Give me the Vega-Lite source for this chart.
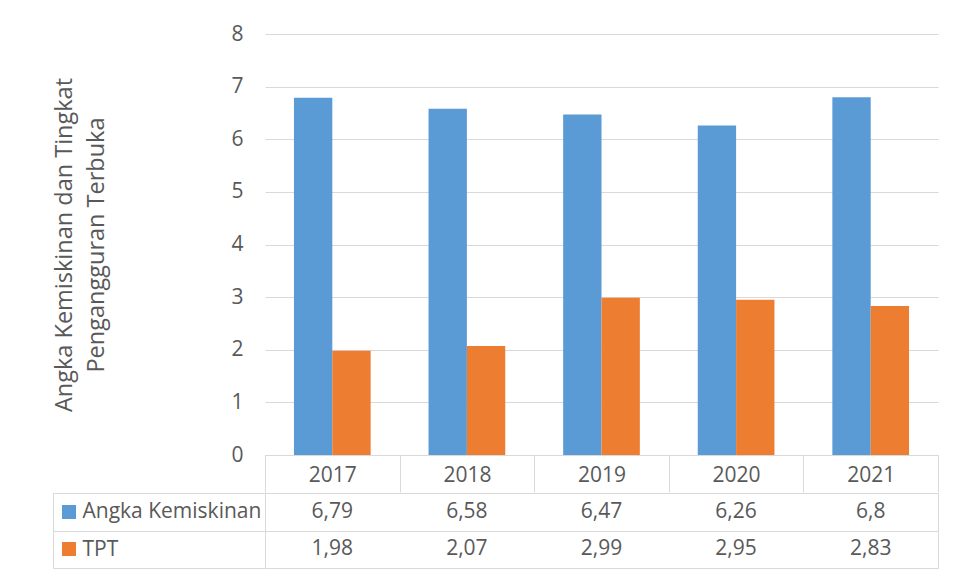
{
  "$schema": "https://vega.github.io/schema/vega-lite/v6.json",
  "padding": {"left": 52, "top": 23, "right": 0, "bottom": 0},
  "background": "white",
  "config": {
    "font": "Open Sans",
    "view": {"stroke": null},
    "concat": {"spacing": 0},
    "locale": {"number": {"decimal": ",", "thousands": ".", "grouping": [3], "currency": ["Rp", ""]}},
    "axis": {"labelColor": "#595959", "labelFontSize": 21, "titleColor": "#595959", "titleFontSize": 23.5, "titleFontWeight": "normal", "gridColor": "#D9D9D9", "domainColor": "#D9D9D9", "tickColor": "#D9D9D9"}
  },
  "datasets": {
    "d": [
      {"year": "2017", "series": "Angka Kemiskinan", "value": 6.79},
      {"year": "2018", "series": "Angka Kemiskinan", "value": 6.58},
      {"year": "2019", "series": "Angka Kemiskinan", "value": 6.47},
      {"year": "2020", "series": "Angka Kemiskinan", "value": 6.26},
      {"year": "2021", "series": "Angka Kemiskinan", "value": 6.8},
      {"year": "2017", "series": "TPT", "value": 1.98},
      {"year": "2018", "series": "TPT", "value": 2.07},
      {"year": "2019", "series": "TPT", "value": 2.99},
      {"year": "2020", "series": "TPT", "value": 2.95},
      {"year": "2021", "series": "TPT", "value": 2.83}
    ]
  },
  "spacing": -12,
  "resolve": {"scale": {"x": "independent", "y": "independent", "color": "independent", "xOffset": "independent"}},
  "vconcat": [
    {
      "width": 673,
      "height": 421,
      "data": {"name": "d"},
      "mark": {"type": "bar"},
      "encoding": {
        "x": {"field": "year", "type": "nominal", "scale": {"paddingInner": 0, "paddingOuter": 0},
          "axis": {"title": null, "labelAngle": 0, "tickBand": "extent", "tickSize": 37, "labelPadding": -28, "grid": false, "minExtent": 37, "maxExtent": 37}},
        "xOffset": {"field": "series", "type": "nominal", "sort": ["Angka Kemiskinan", "TPT"], "scale": {"paddingInner": 0, "paddingOuter": 0.755}},
        "y": {"field": "value", "type": "quantitative", "scale": {"domain": [0, 8]},
          "axis": {"title": ["Angka Kemiskinan dan Tingkat", "Pengangguran Terbuka"], "titleLineHeight": 32, "titlePadding": 122, "values": [0,1,2,3,4,5,6,7,8], "grid": true, "domain": false, "ticks": false, "labelPadding": 22}},
        "color": {"field": "series", "type": "nominal", "scale": {"domain": ["Angka Kemiskinan", "TPT"], "range": ["#5B9BD5", "#ED7D31"]}, "legend": null}
      }
    },
    {
      "width": 673,
      "height": 75,
      "view": {"stroke": "#D9D9D9"},
      "data": {"name": "d"},
      "resolve": {"axis": {"y": "independent"}},
      "layer": [
        {
          "mark": {"type": "text", "fontSize": 21, "color": "#595959", "baseline": "middle"},
          "encoding": {
            "x": {"field": "year", "type": "nominal", "scale": {"paddingInner": 0, "paddingOuter": 0},
              "axis": {"title": null, "labels": false, "ticks": false, "domain": false, "grid": true, "tickBand": "extent"}},
            "y": {"field": "series", "type": "nominal", "sort": ["Angka Kemiskinan", "TPT"], "scale": {"paddingInner": 0, "paddingOuter": 0},
              "axis": {"title": null, "orient": "left", "grid": true, "tickBand": "extent", "ticks": true, "tickSize": 212, "domain": false, "labelAlign": "left", "labelPadding": -29}},
            "text": {"field": "value", "type": "quantitative", "format": "~g"}
          }
        },
        {
          "mark": {"type": "square", "opacity": 0},
          "encoding": {
            "x": {"field": "year", "type": "nominal", "axis": null},
            "y": {"field": "series", "type": "nominal", "sort": ["Angka Kemiskinan", "TPT"],
              "axis": {"title": null, "orient": "left", "offset": 212, "labels": false, "ticks": false, "grid": false, "domain": true}},
            "color": {"field": "series", "type": "nominal", "scale": {"domain": ["Angka Kemiskinan", "TPT"], "range": ["#5B9BD5", "#ED7D31"]},
              "legend": {"orient": "none", "legendX": -203, "legendY": 12, "title": null, "symbolType": "square", "symbolSize": 196, "symbolStrokeWidth": 0, "symbolOpacity": 1, "labelExpr": "''", "rowPadding": 23, "padding": 0}}
          }
        }
      ]
    }
  ]
}
